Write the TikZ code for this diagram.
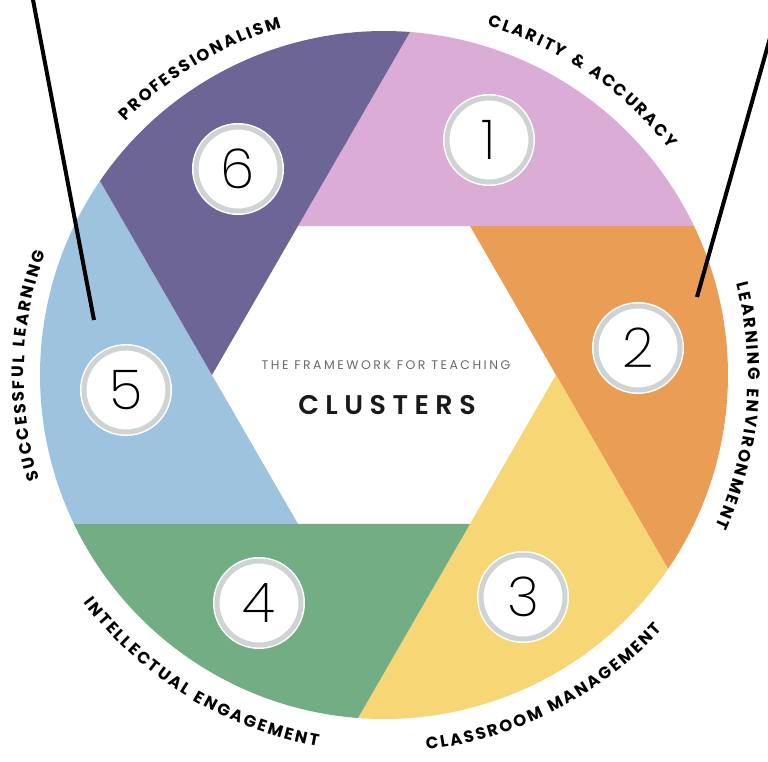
\documentclass[tikz,border=0pt]{standalone}
\usepackage{fontspec}
\setmainfont{Poppins}
\newfontfamily\labfont{Poppins}
\newfontfamily\subfont[LetterSpace=20]{Poppins}
\IfFontExistsTF{Poppins SemiBold}
  {\newfontfamily\clufont[LetterSpace=24]{Poppins SemiBold}}
  {\newfontfamily\clufont[LetterSpace=24]{Poppins}}
\IfFontExistsTF{Poppins ExtraLight}
  {\newfontfamily\numfont{Poppins ExtraLight}}
  {\IfFontExistsTF{Poppins Light}{\newfontfamily\numfont{Poppins Light}}{\newfontfamily\numfont{Poppins}}}
\usetikzlibrary{decorations.text}
\definecolor{cpink}{HTML}{DBACD6}
\definecolor{corange}{HTML}{EA9D55}
\definecolor{cyellow}{HTML}{F7D675}
\definecolor{cgreen}{HTML}{72AD84}
\definecolor{cblue}{HTML}{9EC3DE}
\definecolor{cpurple}{HTML}{6E6597}
\definecolor{ringgrey}{HTML}{CFD3D3}
\definecolor{subgrey}{HTML}{6A6A6A}
\definecolor{labblack}{HTML}{1A1A1A}
\newcommand\labf{\labfont\bfseries\fontsize{16.5pt}{16.5pt}\selectfont}
\def\kk{{\kern2.2pt}}
\def\ww{{\kern4pt}}
\begin{document}
\begin{tikzpicture}[x=1pt,y=1pt,
  numc/.style={circle, fill=white, draw=white, line width=1.5pt, double=ringgrey,
    double distance=5pt, minimum size=84pt, inner sep=0pt,
    font=\numfont\fontsize{55pt}{55pt}\selectfont, text=black},
  toplab/.style={decorate, decoration={text along path, text align=center,
    text={|\labf|#1}}},
  blackline/.style={line width=4pt, black}]
\useasboundingbox (-384,-386) rectangle (384,375);
\fill[white] (-384,-386) rectangle (384,375);
% segments
\def\R{344}\def\r{172}\def\ph{64.34}
\foreach \k/\col in {0/cpink,1/corange,2/cyellow,3/cgreen,4/cblue,5/cpurple}{
  \pgfmathsetmacro\va{120-60*\k}
  \pgfmathsetmacro\sa{150-\ph-60*\k}
  \pgfmathsetmacro\ea{\sa-60}
  \fill[\col] (\va:\r) -- (\sa:\R) arc[start angle=\sa, end angle=\ea, radius=\R] -- cycle;
}
% number circles
\node[numc] (n1) at (105,235) {1};
\node[numc] (n2) at (254,27) {2};
\node[numc] (n3) at (139,-222) {3};
\node[numc] (n4) at (-125,-228) {4};
\node[numc] (n5) at (-258,-15) {5};
\node[numc] (n6) at (-146,206) {6};
% centre text
\node[font=\subfont\fontsize{12.5pt}{12.5pt}\selectfont, text=subgrey, anchor=base] (sub) at (2,6) {THE FRAMEWORK FOR TEACHING};
\node[font=\clufont\fontsize{27pt}{27pt}\selectfont, text=labblack, anchor=base] (clu) at (3,-39) {CLUSTERS};
% labels along the rim
\path[toplab={P\kk R\kk O\kk F\kk E\kk S\kk S\kk I\kk O\kk N\kk A\kk L\kk I\kk S\kk M}]
  (181:362) arc[start angle=181, end angle=61, radius=362];
\path[toplab={C\kk L\kk A\kk R\kk I\kk T\kk Y\kk\ww\kk{\&}\kk\ww\kk A\kk C\kk C\kk U\kk R\kk A\kk C\kk Y}]
  (116:364) arc[start angle=116, end angle=-4, radius=364];
\path[toplab={L\kk E\kk A\kk R\kk N\kk I\kk N\kk G\kk\ww\kk E\kk N\kk V\kk I\kk R\kk O\kk N\kk M\kk E\kk N\kk T}]
  (55:364) arc[start angle=55, end angle=-65, radius=364];
\path[toplab={S\kk U\kk C\kk C\kk E\kk S\kk S\kk F\kk U\kk L\kk\ww\kk L\kk E\kk A\kk R\kk N\kk I\kk N\kk G}]
  (238.5:360) arc[start angle=238.5, end angle=118.5, radius=360];
\path[toplab={C\kk L\kk A\kk S\kk S\kk R\kk O\kk O\kk M\kk\ww\kk M\kk A\kk N\kk A\kk G\kk E\kk M\kk E\kk N\kk T}]
  (-123:377) arc[start angle=-123, end angle=-3, radius=377];
\path[toplab={I\kk N\kk T\kk E\kk L\kk L\kk E\kk C\kk T\kk U\kk A\kk L\kk\ww\kk E\kk N\kk G\kk A\kk G\kk E\kk M\kk E\kk N\kk T}]
  (-181.5:377) arc[start angle=-181.5, end angle=-61.5, radius=377];
% black lines
\coordinate (la) at (-352.5,383);
\coordinate (lb) at (-290,55);
\coordinate (ra) at (386.3,338);
\coordinate (rb) at (313,78);
\draw[blackline] (la) -- (lb);
\draw[blackline] (ra) -- (rb);
\end{tikzpicture}
\end{document}
